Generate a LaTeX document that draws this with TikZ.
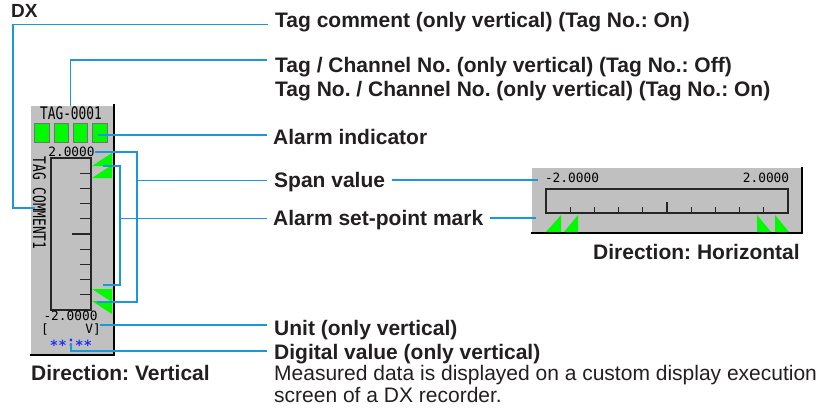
\documentclass[tikz,border=0pt]{standalone}
\usepackage{fontspec}
\setmainfont{Liberation Sans}
\newfontfamily\lcdfont{DejaVu Sans Mono}
\usetikzlibrary{positioning}
\frenchspacing

\definecolor{leadblue}{RGB}{27,152,215}
\definecolor{lcdgray}{RGB}{192,192,192}
\definecolor{markgreen}{RGB}{0,250,0}
\definecolor{digitblue}{RGB}{30,50,255}
\definecolor{labeltext}{RGB}{35,31,32}

\begin{document}
\begin{tikzpicture}[x=1pt, y=-1pt,
    lead/.style={draw=leadblue, line width=1.1pt},
    lbl/.style={anchor=base west, inner sep=0pt, text=labeltext, font=\fontsize{21}{24}\selectfont\bfseries},
    note/.style={anchor=base west, inner sep=0pt, text=labeltext, font=\fontsize{21}{24}\selectfont},
    lcd/.style={inner sep=0pt, font=\lcdfont\fontsize{12.8}{14}\selectfont},
    panel/.style={fill=lcdgray},
    shadow/.style={draw=black, line width=2pt},
    scalebar/.style={draw=black!85, line width=1.2pt},
    tick/.style={draw=black!85, line width=1.1pt},
    alarm/.style={draw=black!55, fill=markgreen, line width=0.8pt, minimum width=14.5pt, minimum height=19pt, inner sep=0pt},
    setmark/.style={fill=markgreen}]
  \useasboundingbox (0,0) rectangle (824,416);

  % DX vertical
  \fill[panel] (31,106) rectangle (114,355);
  \draw[shadow] (114,104) -- (114,355) -- (30,355);
  \node[lcd] (tagname) at (71,113) {\scalebox{1}[1.35]{TAG-0001}};
  \foreach \i in {0,...,3}
    \node[alarm] (ind\i) at (42+19.3*\i,133) {};
  \node[lcd, rotate=-90] (tagcmt) at (39.5,203) {\scalebox{1}[1.35]{TAG COMMENT1}};
  \node[lcd] (spanhi) at (71.5,152) {2.0000};
  \draw[scalebar] (51,158) rectangle (91,310);
  \foreach \k in {1,...,9}
    \draw[tick] (91,158+15.2*\k) -- ++(-11,0);
  \draw[tick] (91,234) -- ++(-19,0);
  \fill[setmark] (92,166) -- (112,153) -- (112,166) -- cycle;
  \fill[setmark] (92,178) -- (112,165) -- (112,178) -- cycle;
  \fill[setmark] (92,289) -- (112,289) -- (112,302) -- cycle;
  \fill[setmark] (92,301) -- (112,301) -- (112,314) -- cycle;
  \node[lcd] (spanlo) at (70.5,316) {-2.0000};
  \node[lcd] (unitl) at (45,329) {[};
  \node[lcd] (unitr) at (93,329) {V]};
  \node[lcd, text=digitblue, font=\lcdfont\bfseries\fontsize{14}{14}\selectfont] (digits) at (71,345) {\raisebox{-0.3em}{**}:\raisebox{-0.3em}{**}};

  % DX horizontal
  \fill[panel] (532,168) rectangle (802,233);
  \draw[shadow] (802,167) -- (802,233) -- (531,233);
  \node[lcd] (hspanlo) at (572,178) {-2.0000};
  \node[lcd] (hspanhi) at (766,178) {2.0000};
  \draw[scalebar] (546,189) rectangle (788,213);
  \foreach \k in {1,...,9}
    \draw[tick] (546+24.2*\k,213) -- ++(0,-6);
  \draw[tick] (667,213) -- ++(0,-11);
  \fill[setmark] (546,232) -- (561,215) -- (561,232) -- cycle;
  \fill[setmark] (564,232) -- (578,215) -- (578,232) -- cycle;
  \fill[setmark] (757,215) -- (757,232) -- (771,232) -- cycle;
  \fill[setmark] (775,215) -- (775,232) -- (789,232) -- cycle;

  % Labels
  \node[lbl, font=\fontsize{19}{22}\selectfont\bfseries] (lbl-dx) at (11,17.5) {DX};
  \node[lbl] (lbl-cmt) at (275,27.5) {Tag comment (only vertical) (Tag No.: On)};
  \node[lbl] (lbl-tag) at (275,72) {Tag / Channel No. (only vertical) (Tag No.: Off)};
  \node[lbl] (lbl-tagno) at (275,96) {Tag No. / Channel No. (only vertical) (Tag No.: On)};
  \node[lbl] (lbl-ind) at (273,144) {Alarm indicator};
  \node[lbl] (lbl-span) at (274,187) {Span value};
  \node[lbl] (lbl-set) at (273,225) {Alarm set-point mark};
  \node[lbl] (lbl-unit) at (274,335) {Unit (only vertical)};
  \node[lbl] (lbl-dig) at (274,359.5) {Digital value (only vertical)};
  \node[note] (lbl-note1) at (274,380.5) {Measured data is displayed on a custom display execution};
  \node[note] (lbl-note2) at (274,402.5) {screen of a DX recorder.};
  \node[lbl] (lbl-vert) at (31,380) {Direction: Vertical};
  \node[lbl] (lbl-horz) at (593,259) {Direction: Horizontal};

  % Leaders
  \coordinate (p-cmt) at (35,208);
  \coordinate (bx-cmt) at (13,24.5);
  \coordinate (p-tag) at (70.5,106);
  \coordinate (bx-tag) at (70.5,60);
  \coordinate (p-ind) at (98,135);
  \coordinate (p-hi) at (95,152);
  \coordinate (p-lo) at (97,302);
  \coordinate (bx-span) at (137,180.5);
  \coordinate (p-ahi) at (103,166);
  \coordinate (p-alo) at (103,285);
  \coordinate (bx-set) at (120,218.5);
  \coordinate (p-unit) at (100,325);
  \coordinate (p-dig) at (71,344);
  \coordinate (bx-dig) at (71,351);
  \coordinate (h-span) at (538,180);
  \coordinate (h-set) at (536,218);

  \draw[lead, shorten >=7pt] (p-cmt) -| (bx-cmt) -- (bx-cmt -| lbl-cmt.west);
  \draw[lead, shorten >=8pt] (p-tag) -- (bx-tag) -- (bx-tag -| lbl-tag.west);
  \draw[lead, shorten >=6pt] (p-ind) -- (p-ind -| lbl-ind.west);
  \draw[lead] (p-hi) -| (bx-span) |- (p-lo);
  \draw[lead, shorten >=7pt] (bx-span) -- (bx-span -| lbl-span.west);
  \draw[lead, shorten <=7pt] (h-span -| lbl-span.east) -- (h-span);
  \draw[lead] (p-ahi) -| (bx-set) |- (p-alo);
  \draw[lead, shorten >=6pt] (bx-set) -- (bx-set -| lbl-set.west);
  \draw[lead, shorten <=7pt] (h-set -| lbl-set.east) -- (h-set);
  \draw[lead, shorten >=7pt] (p-unit) -- (p-unit -| lbl-unit.west);
  \draw[lead, shorten >=7pt] (p-dig) -- (bx-dig) -- (bx-dig -| lbl-dig.west);
\end{tikzpicture}
\end{document}
